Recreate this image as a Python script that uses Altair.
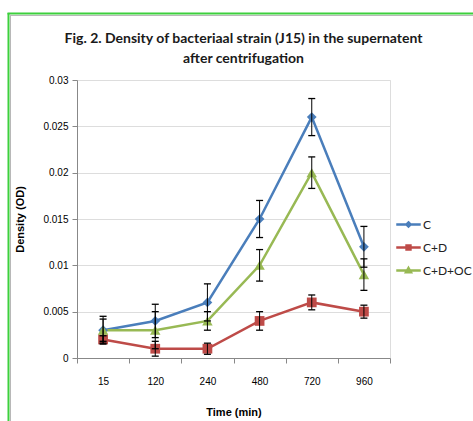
import altair as alt
import pandas as pd

times = ["15", "120", "240", "480", "720", "960"]
series = ["C", "C+D", "C+D+OC"]
c_vals = [0.003, 0.004, 0.006, 0.015, 0.026, 0.012]
c_err = [0.0015, 0.0018, 0.002, 0.002, 0.002, 0.0022]
cd_vals = [0.002, 0.001, 0.001, 0.004, 0.006, 0.005]
cd_err = [0.0004, 0.0008, 0.0006, 0.001, 0.0008, 0.0007]
cdoc_vals = [0.003, 0.003, 0.004, 0.010, 0.020, 0.009]
cdoc_err = [0.0012, 0.002, 0.001, 0.0017, 0.0017, 0.0017]
colors = ["#4A7EBB", "#BE4B48", "#98B954"]
y_ticks = [0, 0.005, 0.01, 0.015, 0.02, 0.025, 0.03]

rows = []
for name, vals, errs in [("C", c_vals, c_err), ("C+D", cd_vals, cd_err), ("C+D+OC", cdoc_vals, cdoc_err)]:
    for t, v, e in zip(times, vals, errs):
        rows.append({"time": t, "series": name, "value": v, "lo": v - e, "hi": v + e})
df = pd.DataFrame(rows)

FONT = "Lato"
legend_paths = [
    "M-1,0H1M0,-0.17L0.17,0L0,0.17L-0.17,0Z",
    "M-1,0H1M-0.16,-0.16H0.16V0.16H-0.16Z",
    "M-1,0H1M0,-0.2L0.2,0.15H-0.2Z",
]

x_axis = alt.Axis(tickBand="extent", labelAngle=0, title="Time (min)", tickSize=5,
                  labelPadding=13, titlePadding=20, grid=False)
y_axis = alt.Axis(values=y_ticks, format=".3~f", title="Density (OD)", tickSize=5,
                  labelPadding=4, grid=True, titleX=-57, titleY=139, titleAngle=270,
                  titleAlign="center", titleBaseline="middle")


def xenc():
    return alt.X("time:N", sort=times, bandPosition=0.5,
                 scale=alt.Scale(type="band", paddingInner=0, paddingOuter=0), axis=x_axis)


def yenc(field):
    return alt.Y(f"{field}:Q", scale=alt.Scale(domain=[0, 0.03], nice=False), axis=y_axis,
                 title="Density (OD)")


leg = alt.Legend(orient="none", legendX=318, legendY=131, title=None, symbolSize=600,
                 symbolStrokeWidth=2.5, labelFont=FONT, labelFontSize=12, labelColor="#222222",
                 labelOffset=1, rowPadding=2, padding=0)

stroke_scale = alt.Scale(domain=series, range=colors)
base = alt.Chart(df)

lines = base.mark_line(strokeWidth=2.5).encode(
    x=xenc(), y=yenc("value"),
    stroke=alt.Stroke("series:N", scale=stroke_scale, legend=leg),
)

legend_layer = base.transform_filter("false").mark_point(filled=True, opacity=1, strokeWidth=2.5).encode(
    x=xenc(), y=yenc("value"),
    stroke=alt.Stroke("series:N", scale=stroke_scale, legend=leg),
    fill=alt.Fill("series:N", scale=alt.Scale(domain=series, range=colors), legend=leg),
    shape=alt.Shape("series:N", scale=alt.Scale(domain=series, range=legend_paths), legend=leg),
)

pts_c = base.transform_filter(alt.datum.series == "C").mark_point(
    filled=True, opacity=1, size=95, shape="diamond", color=colors[0]
).encode(x=xenc(), y=yenc("value"))
pts_cd = base.transform_filter(alt.datum.series == "C+D").mark_square(
    opacity=1, size=95, color=colors[1]
).encode(x=xenc(), y=yenc("value"))
pts_cdoc = base.transform_filter(alt.datum.series == "C+D+OC").mark_point(
    filled=True, opacity=1, size=110, shape="triangle-up", color=colors[2]
).encode(x=xenc(), y=yenc("value"))

rules = base.mark_rule(color="black", strokeWidth=1).encode(x=xenc(), y=yenc("lo"), y2="hi:Q")
caps_hi = base.mark_tick(color="black", size=7, thickness=1.3, opacity=1).encode(x=xenc(), y=yenc("hi"))
caps_lo = base.mark_tick(color="black", size=7, thickness=1.3, opacity=1).encode(x=xenc(), y=yenc("lo"))

frame_data = alt.Data(values=[{"k": 1}])
frame_left = alt.Chart(frame_data).mark_rule(color="#3dd03d", strokeWidth=2).encode(
    x=alt.value(-68.5), y=alt.value(-67), y2=alt.value(345))
frame_top = alt.Chart(frame_data).mark_rule(color="#3dd03d", strokeWidth=2).encode(
    x=alt.value(-69.5), x2=alt.value(400), y=alt.value(-66.5))
shadow_left = alt.Chart(frame_data).mark_rule(color="#b8b8b8", strokeWidth=1).encode(
    x=alt.value(-66.5), y=alt.value(-65.5), y2=alt.value(345))
shadow_top = alt.Chart(frame_data).mark_rule(color="#b8b8b8", strokeWidth=1).encode(
    x=alt.value(-66.5), x2=alt.value(400), y=alt.value(-64.5))

chart = alt.layer(
    lines, pts_c, pts_cd, pts_cdoc, rules, caps_hi, caps_lo, legend_layer,
    frame_left, frame_top, shadow_left, shadow_top,
).properties(
    width=313, height=278,
    autosize=alt.AutoSizeParams(type="none"),
    padding={"left": 77, "top": 80, "right": 83, "bottom": 63},
    title=alt.TitleParams(
        text=["Fig. 2. Density of bacteriaal strain (J15) in the supernatent", "after centrifugation"],
        font=FONT, fontSize=14, fontWeight="bold", color="#1a1a1a", lineHeight=20,
        anchor="middle", dx=10, offset=-54, frame="group",
    ),
).configure_view(stroke=None).configure_axis(
    labelFont=FONT, labelFontSize=11, labelColor="#333333",
    titleFont=FONT, titleFontSize=11, titleFontWeight="bold", titleColor="#1a1a1a",
    domainColor="#8c8c8c", tickColor="#8c8c8c", gridColor="#a8a8a8",
).configure(background="white")

chart.save("out.html", embed_options={"renderer": "svg", "actions": False})
